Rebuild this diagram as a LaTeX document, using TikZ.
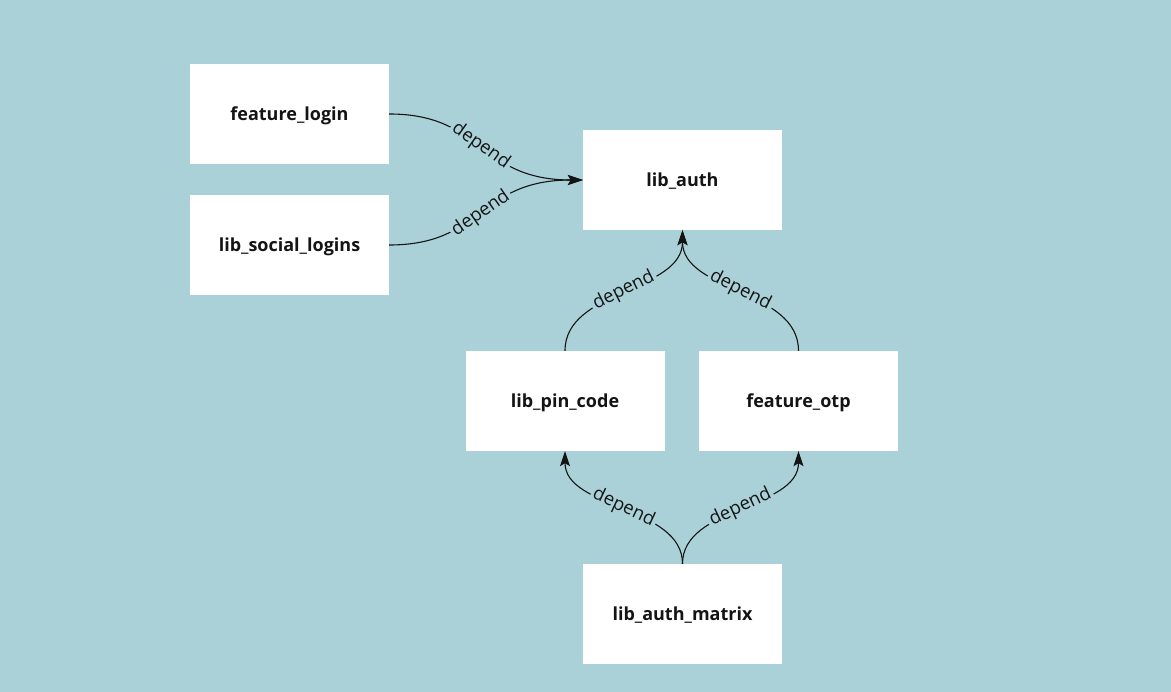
\documentclass[tikz,border=0pt]{standalone}
\usepackage{fontspec}
\setmainfont{Open Sans}
\usetikzlibrary{arrows.meta}
\definecolor{bgc}{RGB}{170,209,216}
\definecolor{txt}{RGB}{20,20,20}
\begin{document}
\begin{tikzpicture}[x=1pt,y=-1pt,
  box/.style={fill=white,draw=none,minimum width=199pt,minimum height=100pt,inner sep=0pt,
    text height=13pt,text depth=0pt,font=\fontsize{18}{21}\selectfont\bfseries,text=txt},
  dep/.style={draw=txt,line width=1.1pt,-{Stealth[length=15pt,width=10pt,inset=3pt]}},
  lbl/.style={sloped,fill=bgc,inner sep=2.5pt,font=\fontsize{18.5}{21}\selectfont,text=txt}]
\fill[bgc] (0,0) rectangle (1171,692);
\useasboundingbox (0,0) rectangle (1171,692);
\node[box] (fl) at (289.5,114) {feature\_login};
\node[box] (sl) at (289.5,245) {lib\_social\_logins};
\node[box] (la) at (682.5,180) {lib\_auth};
\node[box] (pc) at (565,401) {lib\_pin\_code};
\node[box] (fo) at (798.5,401) {feature\_otp};
\node[box] (am) at (682.5,614) {lib\_auth\_matrix};
\draw[dep] (fl.east) .. controls +(95,0) and +(-105,0) .. node[lbl,pos=0.49] {depend} (la.west);
\draw[dep] (sl.east) .. controls +(95,0) and +(-105,0) .. node[lbl,pos=0.49] {depend} (la.west);
\draw[dep] (pc.north) .. controls +(0,-62) and +(0,62) .. node[lbl] {depend} (la.south);
\draw[dep] (fo.north) .. controls +(0,-62) and +(0,62) .. node[lbl] {depend} (la.south);
\draw[dep] (am.north) .. controls +(0,-58) and +(0,58) .. node[lbl] {depend} (pc.south);
\draw[dep] (am.north) .. controls +(0,-58) and +(0,58) .. node[lbl] {depend} (fo.south);
\end{tikzpicture}
\end{document}
